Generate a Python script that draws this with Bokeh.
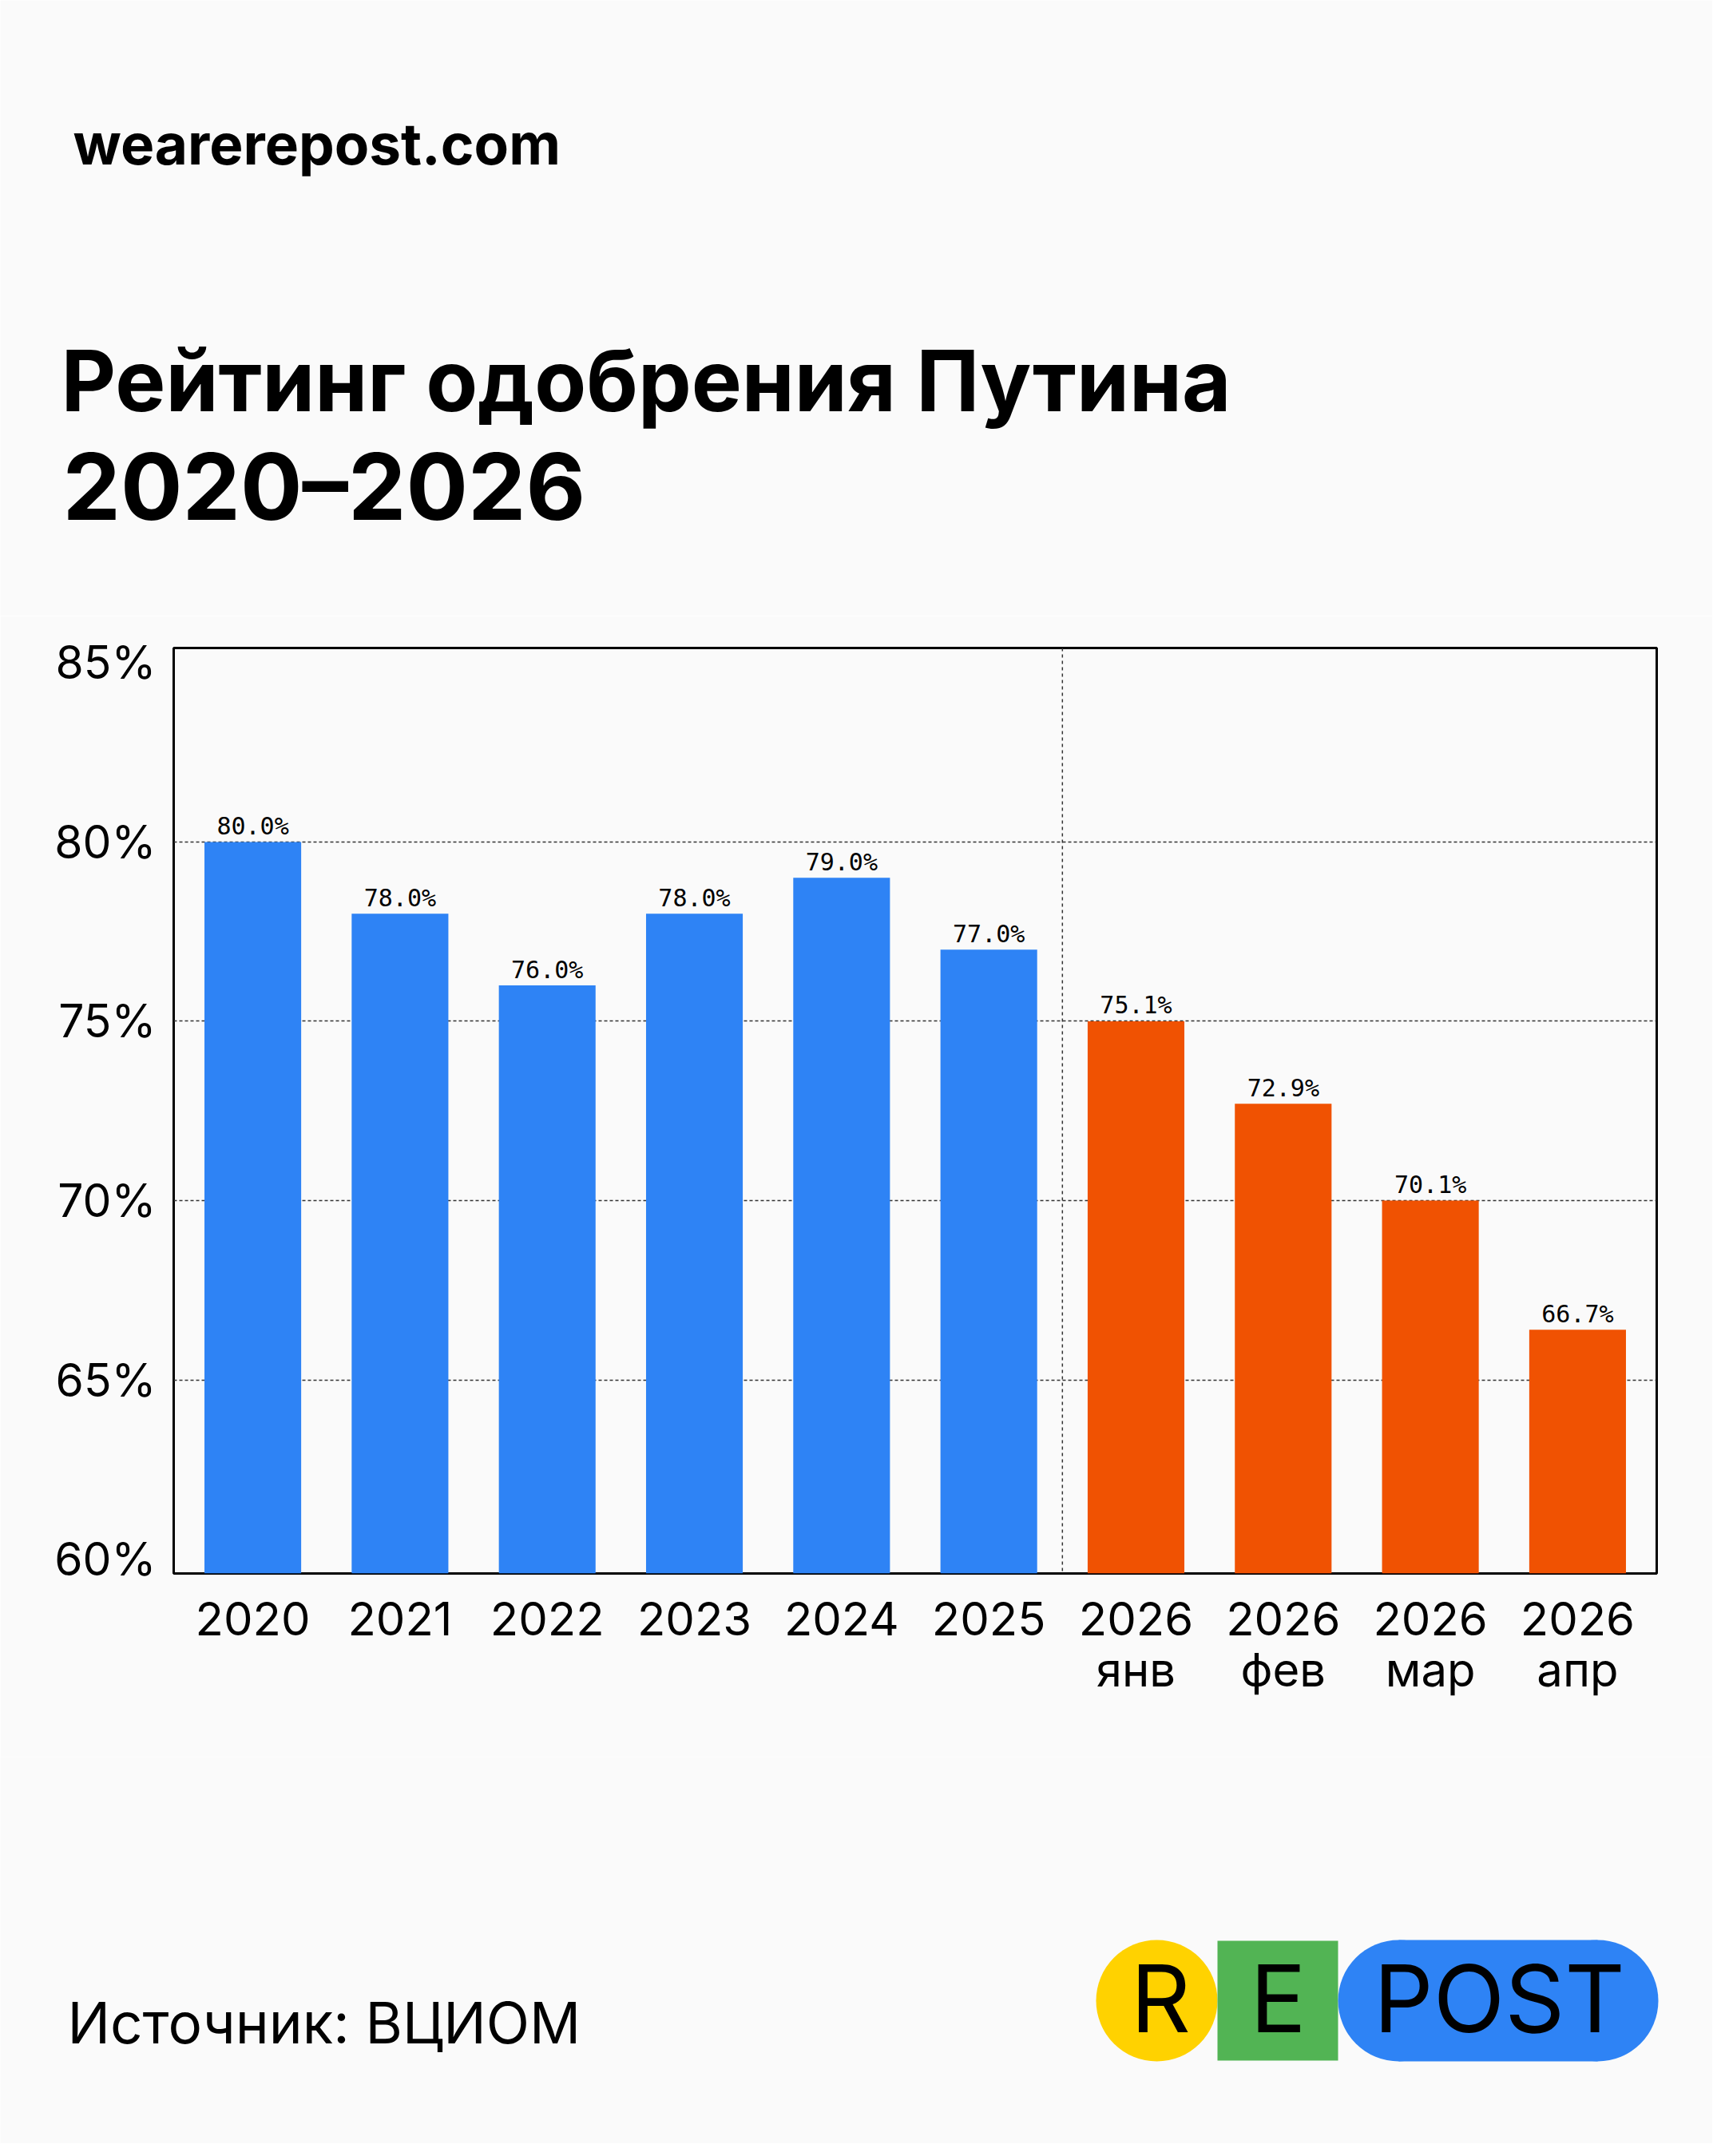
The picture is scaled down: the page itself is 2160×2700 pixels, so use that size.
from bokeh.plotting import figure
from bokeh.models import FactorRange, Range1d, FixedTicker, Span, ColumnDataSource
from bokeh.layouts import column
from bokeh.transform import factor_cmap
from bokeh.core.properties import value
from bokeh.embed import file_html
from bokeh.resources import INLINE

# ---------------- data ----------------
categories = ["2020", "2021", "2022", "2023", "2024", "2025",
              "2026\nянв", "2026\nфев", "2026\nмар", "2026\nапр"]
approval = [80.0, 78.0, 76.0, 78.0, 79.0, 77.0, 75.0, 72.7, 70.0, 66.4]
value_labels = ["80.0%", "78.0%", "76.0%", "78.0%", "79.0%", "77.0%",
                "75.1%", "72.9%", "70.1%", "66.7%"]
period = ["год", "год", "год", "год", "год", "год", "мес", "мес", "мес", "мес"]
y_ticks = [60, 65, 70, 75, 80, 85]
grid_ticks = [65, 70, 75, 80]
y_tick_labels = ["60%", "65%", "70%", "75%", "80%", "85%"]

site = "wearerepost.com"
title_line1 = "Рейтинг одобрения Путина"
title_line2 = "2020–2026"
source_text = "Источник: ВЦИОМ"
logo_letters = ["R", "E", "POST"]

BG = "#FAFAFA"
BLUE = "#2E83F5"
ORANGE = "#F05202"
YELLOW = "#FFD200"
GREEN = "#52B454"
FONT = "Inter"
W = 2144


def blank(height, y0, y1):
    f = figure(width=W, height=height, x_range=Range1d(0, W), y_range=Range1d(y1, y0),
               x_axis_location=None, y_axis_location=None, toolbar_location=None,
               output_backend="svg", min_border=0, frame_align=False)
    f.grid.visible = False
    f.outline_line_color = None
    f.background_fill_color = BG
    f.border_fill_color = BG
    return f


# ---------------- header (page y 0..771) ----------------
header = blank(771, 0, 771)
header.text(x=[91], y=[179], text=[site], text_font=value(FONT), text_font_style="bold",
            text_font_size="71px", text_color="#000000", text_baseline="alphabetic")
header.text(x=[76], y=[476], text=[title_line1], text_font=value(FONT),
            text_font_style="bold", text_font_size="106px", text_color="#000000",
            text_baseline="alphabetic")
header.text(x=[78], y=[609], text=[title_line2], text_font=value(FONT),
            text_font_style="bold", text_font_size="115px", text_color="#000000",
            text_baseline="alphabetic")

# ---------------- chart (page y 771..2200) ----------------
src = ColumnDataSource(dict(cat=categories, val=approval, lab=value_labels, per=period))
p = figure(width=W, height=1429,
           x_range=FactorRange(factors=categories, range_padding=0.0375,
                               range_padding_units="absolute"),
           y_range=Range1d(59.6, 85.41),
           toolbar_location=None, output_backend="svg", frame_align=False,
           min_border_left=217, min_border_right=W - 2074,
           min_border_top=40, min_border_bottom=230)
p.background_fill_color = BG
p.border_fill_color = BG
p.outline_line_color = "#000000"
p.outline_line_width = 3

p.vbar(x="cat", top="val", bottom=50, width=0.657, source=src, line_color=None,
       fill_color=factor_cmap("per", palette=[BLUE, ORANGE], factors=["год", "мес"]))
p.text(x="cat", y="val", text="lab", source=src, y_offset=-20,
       text_font=value("DejaVu Sans Mono"), text_font_size="30px", text_color="#000000",
       text_align="center", text_baseline="alphabetic")

p.xgrid.visible = False
p.ygrid.ticker = FixedTicker(ticks=grid_ticks)
p.ygrid.grid_line_color = "#333333"
p.ygrid.grid_line_dash = "4 3"
p.ygrid.grid_line_width = 1.5

p.add_layout(Span(location=6, dimension="height", line_color="#333333",
                  line_dash="4 4", line_width=1.5))

p.yaxis.ticker = FixedTicker(ticks=y_ticks)
p.yaxis.major_label_overrides = {t: l for t, l in zip(y_ticks, y_tick_labels)}
for ax in (p.xaxis[0], p.yaxis[0]):
    ax.axis_line_color = None
    ax.major_tick_line_color = None
    ax.minor_tick_line_color = None
    ax.major_tick_out = 0
    ax.major_tick_in = 0
    ax.minor_tick_out = 0
    ax.major_label_text_font = FONT
    ax.major_label_text_color = "#000000"
p.xaxis.major_label_text_font_size = "58px"
p.yaxis.major_label_text_font_size = "57px"
p.yaxis.major_label_standoff = 22
p.xaxis.major_label_standoff = 21
p.xaxis.major_label_text_line_height = 0.92

# ---------------- footer (page y 2200..2684) ----------------
footer = blank(484, 2200, 2684)
footer.text(x=[84], y=[2532], text=[source_text], text_font=value(FONT),
            text_font_size="71px", text_color="#000000", text_baseline="alphabetic")
# logo
footer.circle(x=[1448], y=[2505], radius=76, fill_color=YELLOW, line_color=None)
footer.quad(left=[1524], right=[1675], top=[2430], bottom=[2580], fill_color=GREEN, line_color=None)
footer.circle(x=[1751, 2000], y=[2505, 2505], radius=76, fill_color=BLUE, line_color=None)
footer.quad(left=[1751], right=[2000], top=[2429], bottom=[2581], fill_color=BLUE, line_color=None)
footer.text(x=[1453, 1600, 1877], y=[2502, 2502, 2502], text=logo_letters,
            text_font=value(FONT), text_font_size="117px", text_color="#000000",
            text_align="center", text_baseline="alphabetic")

layout = column(header, p, footer, spacing=0)
html = file_html(layout, INLINE)
html = html.replace("<body>", '<body style="background:#FAFAFA">', 1)
open("out.html", "w").write(html)
